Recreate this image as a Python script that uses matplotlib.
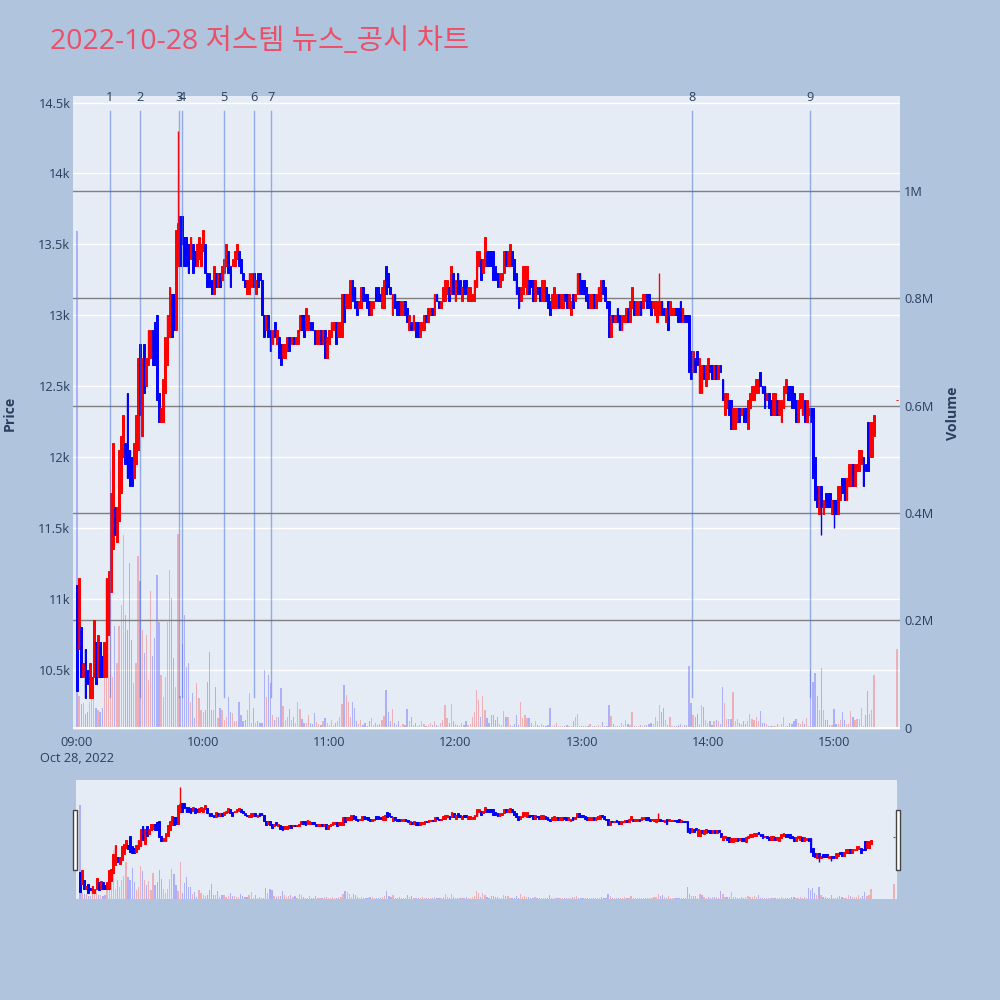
import numpy as np
import matplotlib
matplotlib.use('Agg')
import matplotlib.pyplot as plt
from matplotlib.patches import Rectangle

plt.rcParams['font.family'] = ['Open Sans', 'Noto Sans CJK KR', 'DejaVu Sans']

# ---- data (1-minute candles from 09:00, prices in won, volume in thousands) ----
title = '2022-10-28 저스템 뉴스_공시 차트'
session_start = '09:00'

opens = [
    11100, 10650, 10800, 10450, 10650, 10500, 10300, 10300, 10450, 10700,
    10450, 10700, 10600, 10450, 10450, 10750, 11050, 11350, 11650, 11400,
    11550, 11750, 12000, 12100, 12450, 12050, 12000, 11850, 11950, 12050,
    12800, 12150, 12800, 12500, 12650, 12700, 12900, 12950, 13000, 12450,
    12250, 12250, 12450, 12650, 12850, 13150, 13150, 12900, 13350, 13700,
    13700, 13550, 13550, 13500, 13400, 13500, 13450, 13350, 13400, 13350,
    13450, 13500, 13300, 13300, 13250, 13150, 13300, 13200, 13300, 13250,
    13300, 13350, 13450, 13350, 13350, 13350, 13400, 13450, 13400, 13300,
    13250, 13150, 13150, 13200, 13300, 13150, 13300, 13300, 13250, 13000,
    12900, 13000, 12900, 12800, 12950, 12800, 12850, 12800, 12700, 12700,
    12750, 12850, 12800, 12850, 12800, 12800, 12900, 13000, 13000, 12900,
    12900, 12950, 12950, 12900, 12800, 12800, 12900, 12800, 12900, 12700,
    12800, 12850, 12900, 12950, 12850, 12850, 12850, 13150, 13050, 13050,
    13050, 13250, 13200, 13100, 13050, 13050, 13200, 13150, 13150, 13100,
    13000, 13050, 13200, 13200, 13150, 13050, 13050, 13350, 13300, 13200,
    13000, 13150, 13100, 13100, 13000, 13000, 13100, 13050, 12900, 12950,
    12900, 12950, 12950, 12850, 12900, 12900, 13000, 12950, 13000, 13050,
    13000, 13150, 13100, 13050, 13100, 13100, 13150, 13200, 13150, 13300,
    13100, 13300, 13250, 13100, 13250, 13250, 13100, 13100, 13100, 13100,
    13200, 13350, 13400, 13300, 13350, 13450, 13450, 13450, 13450, 13350,
    13300, 13200, 13250, 13300, 13450, 13350, 13350, 13450, 13400, 13300,
    13200, 13100, 13150, 13200, 13150, 13250, 13250, 13250, 13100, 13200,
    13200, 13100, 13100, 13200, 13150, 13100, 13050, 13050, 13050, 13150,
    13050, 13050, 13150, 13150, 13050, 13000, 13150, 13100, 13150, 13300,
    13250, 13250, 13200, 13150, 13050, 13050, 13150, 13050, 13100, 13100,
    13250, 13200, 13100, 13100, 12850, 13000, 12950, 13050, 13000, 12900,
    12950, 12950, 13050, 12950, 13050, 13100, 13000, 13000, 13100, 13050,
    13100, 13150, 13150, 13100, 13050, 13000, 12950, 13000, 13100, 13050,
    12950, 13100, 13000, 13000, 13000, 13050, 13050, 13100, 12950, 13000,
    13000, 13000, 12750, 12600, 12700, 12750, 12450, 12450, 12650, 12500,
    12550, 12650, 12650, 12550, 12650, 12550, 12650, 12550, 12300, 12350,
    12400, 12400, 12200, 12200, 12250, 12350, 12300, 12350, 12350, 12200,
    12350, 12400, 12400, 12450, 12450, 12600, 12500, 12500, 12400, 12450,
    12400, 12300, 12300, 12400, 12300, 12250, 12350, 12450, 12500, 12500,
    12500, 12450, 12400, 12250, 12350, 12300, 12400, 12250, 12300, 12350,
    12350, 12000, 11800, 11600, 11800, 11600, 11750, 11750, 11750, 11600,
    11700, 11700, 11600, 11700, 11850, 11850, 11700, 11800, 11800, 11950,
    11800, 11900, 11900, 11950, 12000, 11950, 12250, 12000, 12000, 12150,
]

closes = [
    10350, 11150, 10450, 10550, 10300, 10400, 10550, 10450, 10850, 10400,
    10750, 10450, 10450, 10700, 11150, 11200, 11750, 12100, 11450, 11650,
    12050, 12150, 12300, 11950, 11850, 11800, 11800, 12100, 12300, 12700,
    12300, 12700, 12450, 12700, 12900, 12900, 12650, 12650, 12400, 12250,
    12350, 12550, 12850, 13000, 13200, 12850, 12900, 13600, 13650, 13350,
    13500, 13350, 13350, 13300, 13550, 13300, 13350, 13500, 13550, 13500,
    13600, 13300, 13200, 13200, 13150, 13350, 13200, 13300, 13200, 13350,
    13400, 13500, 13300, 13200, 13400, 13450, 13500, 13350, 13300, 13250,
    13200, 13250, 13300, 13300, 13200, 13250, 13200, 13250, 13000, 12850,
    13000, 12850, 12750, 12900, 12850, 12900, 12700, 12650, 12800, 12800,
    12850, 12750, 12850, 12800, 12850, 12900, 13000, 12900, 12850, 13050,
    13000, 12900, 12900, 12800, 12900, 12900, 12800, 12900, 12700, 12850,
    12900, 12950, 12950, 12800, 12950, 12950, 13150, 12950, 13150, 13150,
    13250, 13100, 13050, 13000, 13100, 13200, 13100, 13100, 13050, 13000,
    13100, 13100, 13100, 13100, 13100, 13200, 13250, 13150, 13200, 13150,
    13150, 13050, 13000, 13000, 13100, 13100, 13000, 12950, 13000, 12900,
    13000, 12850, 12850, 12950, 12950, 13000, 12950, 13050, 13050, 13000,
    13150, 13100, 13050, 13100, 13200, 13250, 13250, 13100, 13350, 13150,
    13250, 13150, 13150, 13200, 13150, 13150, 13200, 13200, 13150, 13250,
    13450, 13450, 13250, 13400, 13550, 13350, 13350, 13350, 13250, 13250,
    13200, 13300, 13300, 13450, 13350, 13450, 13500, 13350, 13250, 13150,
    13050, 13200, 13350, 13350, 13350, 13150, 13200, 13100, 13250, 13150,
    13100, 13250, 13250, 13100, 13050, 13000, 13150, 13200, 13150, 13050,
    13150, 13150, 13100, 13050, 13150, 13100, 13050, 13150, 13300, 13150,
    13150, 13150, 13100, 13050, 13150, 13150, 13050, 13150, 13200, 13250,
    13150, 13100, 13050, 12850, 13000, 12950, 13000, 12950, 12900, 13000,
    13000, 13050, 12950, 13100, 13200, 13000, 13100, 13100, 13000, 13150,
    13150, 13050, 13050, 13000, 13100, 13100, 13100, 13100, 13000, 13000,
    13050, 12900, 13100, 13050, 13050, 13000, 12950, 12950, 13050, 12950,
    12950, 12600, 12550, 12750, 12600, 12650, 12700, 12650, 12550, 12650,
    12700, 12600, 12550, 12650, 12550, 12650, 12600, 12400, 12450, 12450,
    12300, 12200, 12350, 12350, 12350, 12250, 12350, 12250, 12250, 12400,
    12450, 12500, 12500, 12550, 12550, 12500, 12450, 12350, 12450, 12350,
    12300, 12450, 12450, 12300, 12400, 12400, 12500, 12550, 12400, 12400,
    12350, 12350, 12250, 12400, 12450, 12450, 12250, 12400, 12350, 12250,
    11850, 11700, 11650, 11800, 11650, 11700, 11650, 11650, 11650, 11700,
    11600, 11600, 11800, 11800, 11750, 11700, 11850, 11950, 11950, 11800,
    11950, 11950, 12050, 12050, 11800, 11900, 11900, 12250, 12250, 12300,
]

volumes_k = [
    925, 60, 45, 47, 25, 30, 49, 58, 58, 37, 33, 30, 37, 98, 201, 254, 481, 95, 189, 120,
    189, 229, 359, 210, 182, 307, 164, 83, 120, 320, 273, 182, 139, 173, 89, 254, 133, 167, 285, 198,
    98, 58, 95, 198, 294, 241, 130, 77, 362, 60, 157, 210, 114, 120, 49, 65, 18, 83, 55, 33,
    30, 33, 86, 142, 33, 33, 77, 18, 37, 33, 15, 21, 58, 30, 27, 12, 12, 49, 24, 12,
    15, 33, 65, 9, 37, 9, 12, 9, 9, 108, 58, 98, 83, 24, 15, 21, 21, 74, 40, 15,
    21, 35, 15, 21, 9, 49, 35, 16, 9, 9, 24, 9, 8, 27, 10, 8, 6, 12, 18, 9,
    6, 14, 5, 9, 12, 20, 45, 80, 62, 49, 20, 49, 37, 12, 8, 15, 6, 9, 4, 12,
    18, 6, 9, 5, 8, 15, 22, 71, 30, 12, 35, 9, 6, 12, 4, 8, 6, 35, 12, 21,
    6, 9, 4, 6, 12, 8, 4, 6, 9, 5, 12, 6, 4, 9, 15, 42, 18, 9, 44, 12,
    8, 6, 4, 9, 6, 12, 5, 8, 20, 30, 71, 52, 20, 60, 33, 18, 9, 24, 24, 15,
    20, 8, 6, 31, 21, 21, 6, 3, 8, 24, 6, 49, 18, 24, 18, 19, 9, 3, 12, 6,
    4, 8, 6, 4, 6, 37, 3, 5, 9, 4, 3, 4, 3, 5, 4, 3, 12, 20, 26, 4,
    4, 3, 4, 3, 8, 3, 3, 4, 5, 4, 11, 4, 4, 43, 23, 8, 3, 4, 3, 9,
    5, 15, 8, 6, 29, 4, 3, 3, 5, 4, 6, 6, 8, 9, 8, 20, 12, 43, 30, 37,
    15, 6, 21, 4, 4, 3, 6, 8, 3, 5, 6, 116, 47, 24, 21, 26, 8, 43, 39, 15,
    9, 12, 6, 12, 14, 12, 8, 77, 47, 17, 16, 16, 66, 12, 16, 9, 8, 12, 8, 12,
    26, 16, 15, 21, 12, 32, 9, 9, 8, 4, 4, 4, 4, 8, 4, 8, 20, 4, 4, 9,
    8, 12, 16, 9, 8, 12, 8, 18, 4, 108, 86, 103, 60, 33, 111, 33, 15, 15, 6, 6,
    35, 8, 8, 15, 29, 15, 8, 8, 32, 21, 15, 16, 16, 37, 4, 24, 68, 26, 33, 99,
]

# wick extremes beyond the candle body (minute index -> price)
wick_high = {48: 14300, 277: 13300}
wick_low = {354: 11450, 360: 11500}

# closing auction at 15:30
auction_time = '15:30'
auction_open = 12400
auction_close = 12400
auction_volume_k = 147

news_labels = ['1', '2', '3', '4', '5', '6', '7', '8', '9']
news_times = ['09:15:40', '09:30:00', '09:48:30', '09:49:55', '10:09:55',
              '10:24:10', '10:32:20', '13:52:30', '14:48:35']

hour_labels = ['09:00', '10:00', '11:00', '12:00', '13:00', '14:00', '15:00']
date_label = 'Oct 28, 2022'
price_ticks = [10500, 11000, 11500, 12000, 12500, 13000, 13500, 14000, 14500]
price_tick_labels = ['10.5k', '11k', '11.5k', '12k', '12.5k', '13k', '13.5k', '14k', '14.5k']
vol_ticks = [0, 0.2, 0.4, 0.6, 0.8, 1.0]
vol_tick_labels = ['0', '0.2M', '0.4M', '0.6M', '0.8M', '1M']


def to_min(t):
    parts = [int(p) for p in t.split(':')]
    h0, m0 = [int(p) for p in session_start.split(':')]
    sec = parts[2] if len(parts) > 2 else 0
    return (parts[0] - h0) * 60 + (parts[1] - m0) + sec / 60


# ---- assemble arrays ----
x = np.append(np.arange(len(opens)), to_min(auction_time))
o = np.array(opens + [auction_open], dtype=float)
c = np.array(closes + [auction_close], dtype=float)
v = np.array(volumes_k + [auction_volume_k], dtype=float) / 1000.0
hi = np.maximum(o, c)
lo = np.minimum(o, c)
for k, p in wick_high.items():
    hi[k] = p
for k, p in wick_low.items():
    lo[k] = p
up = c >= o
cand_col = np.where(up, '#ff0000', '#0000ff')
vol_col = [(1, 0, 0, 0.25) if u else (0, 0, 1, 0.25) for u in up]

xlim = (-1.9, 391.4)
price_lim = (10077, 14546)
vol_lim = (-0.004, 1.177)

BG = '#B0C4DE'
PLOT_BG = '#E5ECF6'
TXT = '#2a3f5f'
FS = 9.2


def draw_candles(ax, body_w=0.85, lw=0.7):
    ax.vlines(x, lo, hi, colors=cand_col, lw=1.0)
    ax.bar(x, np.abs(c - o), bottom=np.minimum(o, c), width=body_w,
           color=cand_col, edgecolor=cand_col, lw=lw)


fig = plt.figure(figsize=(10, 10), dpi=100, facecolor=BG)

# ---- main chart ----
rect = [0.073, 0.27, 0.827, 0.634]
ax_p = fig.add_axes(rect, facecolor=PLOT_BG)
ax_p.set_xlim(*xlim)
ax_p.set_ylim(*price_lim)
ax_p.set_yticks(price_ticks)
ax_p.set_yticklabels(price_tick_labels)
ax_p.grid(axis='y', color='white', lw=1)
ax_p.set_axisbelow(True)
ax_p.set_xticks([to_min(h) for h in hour_labels])
ax_p.set_xticklabels([hour_labels[0] + '\n' + date_label] + hour_labels[1:])
for lab in ax_p.get_xticklabels():
    lab.set_linespacing(1.35)
ax_p.tick_params(length=0, labelsize=FS, labelcolor=TXT)
ax_p.tick_params(axis='y', pad=2)
ax_p.tick_params(axis='x', pad=4)
for s in ax_p.spines.values():
    s.set_visible(False)

ax_v = ax_p.twinx()
ax_v.set_ylim(*vol_lim)
ax_v.bar(x, v, width=0.6, color=vol_col, lw=0)
ax_v.set_yticks(vol_ticks)
ax_v.set_yticklabels(vol_tick_labels)
ax_v.grid(axis='y', color='#808080', lw=1)
ax_v.axhline(0, color='white', lw=1.5)
ax_v.tick_params(length=0, labelsize=FS, labelcolor=TXT, pad=3)
for s in ax_v.spines.values():
    s.set_visible(False)

ax_c = fig.add_axes(rect, sharex=ax_p)
ax_c.set_ylim(*price_lim)
ax_c.axis('off')
draw_candles(ax_c)
ax_c.set_xlim(*xlim)

news_x = [to_min(t) for t in news_times]
xt = ax_c.get_xaxis_transform()
for lab, nx in zip(news_labels, news_x):
    ax_c.axvline(nx, ymin=0.052, ymax=0.976, color=(0.255, 0.412, 0.882, 0.5), lw=1)
    ax_c.text(nx, 0.998, lab, transform=xt, ha='center', va='center',
              fontsize=FS, color=TXT)

fig.text(0.010, 0.587, 'Price', rotation=90, ha='center', va='center',
         fontsize=10.2, fontweight='bold', color=TXT)
fig.text(0.953, 0.587, 'Volume', rotation=90, ha='center', va='center',
         fontsize=10.2, fontweight='bold', color=TXT)
fig.text(0.05, 0.958, title, ha='left', va='center', fontsize=20.5, color='#EB5068')

# ---- range slider ----
srect = [0.076, 0.101, 0.821, 0.119]
ax_sv = fig.add_axes(srect, facecolor=PLOT_BG)
ax_sv.set_xlim(*xlim)
ax_sv.set_ylim(*vol_lim)
ax_sv.bar(x, v, width=0.6, color=vol_col, lw=0)
ax_sv.set_xticks([])
ax_sv.set_yticks([])
for s in ax_sv.spines.values():
    s.set_visible(False)
for hx in (-0.0037, 0.9988):
    ax_sv.add_patch(Rectangle((hx, 0.244), 0.0049, 0.504, transform=ax_sv.transAxes,
                              facecolor='white', edgecolor='#444444', lw=1, clip_on=False))

ax_sc = fig.add_axes(srect)
ax_sc.set_xlim(*xlim)
ax_sc.set_ylim(*price_lim)
ax_sc.axis('off')
draw_candles(ax_sc)

fig.savefig('out.png', dpi=100, facecolor=BG)
